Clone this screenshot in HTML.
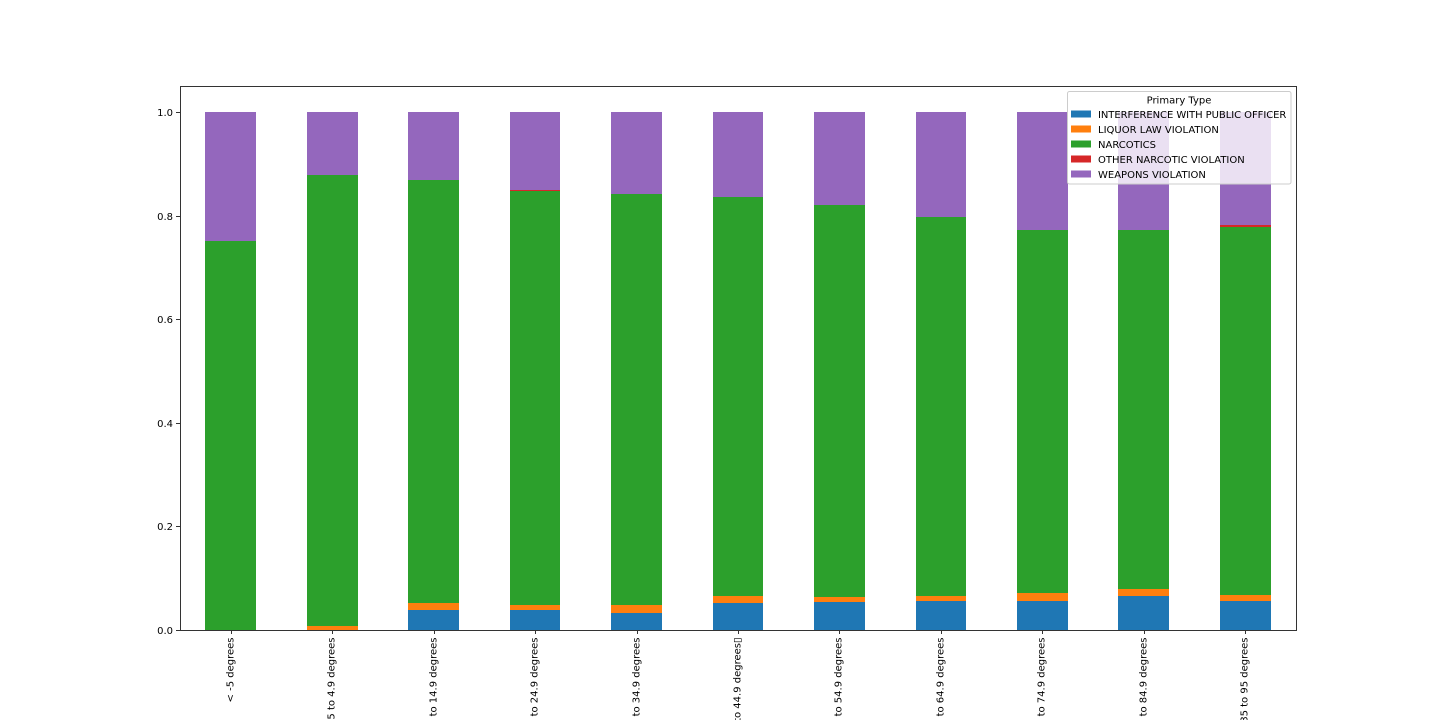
<!DOCTYPE html>
<html>
<head>
<meta charset="utf-8">
<title>Primary Type by temperature range</title>
<style>
  html, body { margin: 0; padding: 0; background: #fff; width: 1440px; height: 720px; overflow: hidden; }
  svg { display: block; }
  text { font-family: "DejaVu Sans", "Liberation Sans", sans-serif; font-size: 10px; fill: #000; }
</style>
</head>
<body>
<svg id="chart" xmlns="http://www.w3.org/2000/svg" width="1440" height="720" viewBox="0 0 1440 720">
  <rect x="0" y="0" width="1440" height="720" fill="#ffffff"></rect>
  <g id="bars" shape-rendering="crispEdges"></g>
  <g id="x-axis"></g>
  <g id="y-axis"></g>
  <g id="spines" shape-rendering="crispEdges" stroke="#333333" stroke-width="1">
    <line x1="180.5" y1="86" x2="180.5" y2="631"></line>
    <line x1="1296.5" y1="86" x2="1296.5" y2="631"></line>
    <line x1="180" y1="86.5" x2="1297" y2="86.5"></line>
    <line x1="180" y1="630.5" x2="1297" y2="630.5"></line>
  </g>
  <g id="legend">
    <rect x="1067.5" y="91.5" width="223.5" height="92.5" rx="2" ry="2" fill="#ffffff" fill-opacity="0.8" stroke="#cccccc" stroke-width="1"></rect>
    <text x="1179" y="103.5" text-anchor="middle">Primary Type</text>
  </g>
</svg>
<script>
const categories = ["< -5 degrees", "-5 to 4.9 degrees", "5 to 14.9 degrees", "15 to 24.9 degrees", "25 to 34.9 degrees", "35 to 44.9 degrees\u25AF", "45 to 54.9 degrees", "55 to 64.9 degrees", "65 to 74.9 degrees", "75 to 84.9 degrees", "85 to 95 degrees"];
const seriesNames = ["INTERFERENCE WITH PUBLIC OFFICER", "LIQUOR LAW VIOLATION", "NARCOTICS", "OTHER NARCOTIC VIOLATION", "WEAPONS VIOLATION"];
const seriesColors = ["#1f77b4", "#ff7f0e", "#2ca02c", "#d62728", "#9467bd"];
const interference = [0, 0, 0.039, 0.039, 0.033, 0.052, 0.054, 0.056, 0.056, 0.066, 0.056];
const liquor = [0, 0.008, 0.013, 0.009, 0.015, 0.014, 0.010, 0.010, 0.015, 0.013, 0.012];
const narcotics = [0.750, 0.870, 0.817, 0.799, 0.794, 0.770, 0.756, 0.731, 0.701, 0.693, 0.710];
const otherNarcotic = [0, 0, 0, 0.003, 0, 0, 0, 0, 0, 0, 0.004];
const weapons = [0.250, 0.122, 0.131, 0.150, 0.158, 0.164, 0.180, 0.203, 0.228, 0.228, 0.218];
const yTickValues = [0, 0.2, 0.4, 0.6, 0.8, 1.0];
const yTickLabels = ["0.0", "0.2", "0.4", "0.6", "0.8", "1.0"];

const NS = "http://www.w3.org/2000/svg";
const plotLeft = 180, plotRight = 1296, plotBottom = 630, plotTop = 86;
const yMax = 1.05;
const xScale = function (i) { return plotLeft + (i + 0.5) * (plotRight - plotLeft) / categories.length; };
const yScale = function (v) { return plotBottom - v * (plotBottom - plotTop) / yMax; };
const barWidth = 0.5 * (plotRight - plotLeft) / categories.length;
const allSeries = [interference, liquor, narcotics, otherNarcotic, weapons];
const seriesKeys = ["interference", "liquor", "narcotics", "other-narcotic", "weapons"];

const barsGroup = document.getElementById("bars");
const cumulative = categories.map(function () { return 0; });
allSeries.forEach(function (values, s) {
  values.forEach(function (value, i) {
    const base = cumulative[i];
    const top = base + value;
    cumulative[i] = top;
    if (value <= 0) { return; }
    const x0 = Math.round(xScale(i) - barWidth / 2);
    const x1 = Math.round(xScale(i) + barWidth / 2);
    const y0 = Math.round(yScale(base));
    const y1 = Math.round(yScale(top));
    const rect = document.createElementNS(NS, "rect");
    rect.setAttribute("x", x0);
    rect.setAttribute("y", y1);
    rect.setAttribute("width", x1 - x0);
    rect.setAttribute("height", Math.max(y0 - y1, 1));
    rect.setAttribute("fill", seriesColors[s]);
    
    
    rect.setAttribute("data-series", seriesKeys[s]);
    barsGroup.appendChild(rect);
  });
});

const xAxis = document.getElementById("x-axis");
categories.forEach(function (label, i) {
  const px = Math.round(xScale(i)) + 0.5;
  const tick = document.createElementNS(NS, "line");
  tick.setAttribute("x1", px);
  tick.setAttribute("x2", px);
  tick.setAttribute("y1", plotBottom + 1);
  tick.setAttribute("y2", plotBottom + 4);
  tick.setAttribute("stroke", "#333333");
  tick.setAttribute("shape-rendering", "crispEdges");
  
  
  xAxis.appendChild(tick);
  const text = document.createElementNS(NS, "text");
  const tx = px + 2;
  const ty = 637.5;
  text.setAttribute("x", tx);
  text.setAttribute("y", ty);
  text.setAttribute("text-anchor", "end");
  text.setAttribute("transform", "rotate(-90 " + tx + " " + ty + ")");
  
  
  text.textContent = label;
  xAxis.appendChild(text);
});

const yAxis = document.getElementById("y-axis");
yTickValues.forEach(function (value, i) {
  const py = Math.round(yScale(value)) + 0.5;
  const tick = document.createElementNS(NS, "line");
  tick.setAttribute("x1", plotLeft - 4);
  tick.setAttribute("x2", plotLeft);
  tick.setAttribute("y1", py);
  tick.setAttribute("y2", py);
  tick.setAttribute("stroke", "#333333");
  tick.setAttribute("shape-rendering", "crispEdges");
  
  
  yAxis.appendChild(tick);
  const text = document.createElementNS(NS, "text");
  text.setAttribute("x", 173);
  text.setAttribute("y", py + 3.5);
  text.setAttribute("text-anchor", "end");
  
  
  text.textContent = yTickLabels[i];
  yAxis.appendChild(text);
});

const legend = document.getElementById("legend");
seriesNames.forEach(function (name, s) {
  const rowY = 114.5 + s * 15;
  const swatch = document.createElementNS(NS, "rect");
  swatch.setAttribute("x", 1071);
  swatch.setAttribute("y", rowY - 4);
  swatch.setAttribute("width", 20);
  swatch.setAttribute("height", 7);
  swatch.setAttribute("fill", seriesColors[s]);
  swatch.setAttribute("shape-rendering", "crispEdges");
  
  
  legend.appendChild(swatch);
  const text = document.createElementNS(NS, "text");
  text.setAttribute("x", 1098);
  text.setAttribute("y", rowY + 3.5);
  if (s === 0) { text.setAttribute("letter-spacing", "-0.06"); }
  
  
  text.textContent = name;
  legend.appendChild(text);
});
</script>
</body>
</html>
